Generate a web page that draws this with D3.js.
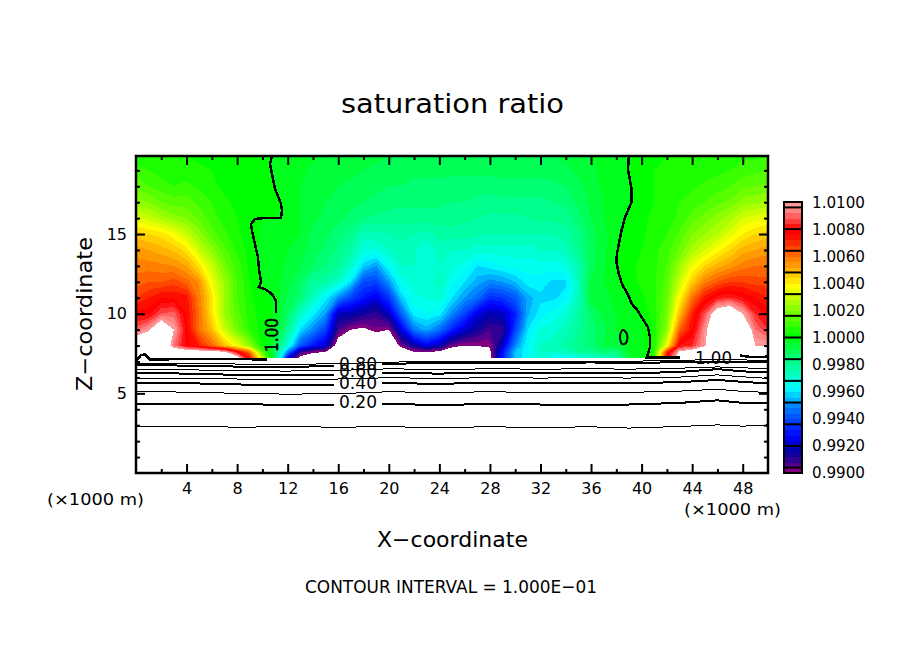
<!DOCTYPE html>
<html lang="en"><head>
<meta charset="utf-8">
<title>saturation ratio</title>
<script src="https://cdnjs.cloudflare.com/ajax/libs/d3/7.8.5/d3.min.js"></script>
<style>
  html, body { margin: 0; background: #fff; }
  text { font-family: "DejaVu Sans", sans-serif; fill: #000; }
</style>
</head>
<body>
<script>

// heights of the colour field, km
var zKm = [7.2,7.6,8,9,10,11,12,13,14,15,16,17,18,19,19.9];

// (saturation ratio - 1) * 10000, one array per km of x, bottom to top
var x00 = [110,110,115,90,78,68,62,58,54,46,34,22,15,10,5];
var x01 = [115,115,120,98,78,72,64,58,52,44,30,20,12,8,5];
var x02 = [120,120,120,118,88,76,64,57,50,42,26,16,10,6,4];
var x03 = [115,115,92,100,90,76,66,56,47,37,22,14,8,5,4];
var x04 = [115,110,78,78,76,74,62,52,42,30,20,14,9,6,4];
var x05 = [115,108,72,60,60,58,55,42,30,22,15,11,7,5,3];
var x06 = [115,105,62,48,42,42,36,30,22,14,10,8,5,4,3];
var x07 = [115,102,48,30,24,24,24,18,13,9,6,5,3,2,2];
var x08 = [110,80,36,18,14,12,12,10,7,5,4,3,2,2,1];
var x09 = [75,60,22,8,6,5,4,3,2,1.5,1,2,2,1,1];
var x10 = [30,14,4,2,2,1,-0.5,-1,-1,-1,0,3,2,1,1];
var x11 = [-8,-12,-8,-2,-0.5,-0.5,-2,-2,-2,-2,0,1,0,-1,-1];
var x12 = [-75,-50,-32,-18,-12,-9,-7,-5,-4,-3,-1,-1,-1,-2,-2];
var x13 = [-105,-90,-58,-40,-28,-14,-12,-8,-6,-4,-4,-4,-4,-3,-3];
var x14 = [-110,-98,-70,-50,-38,-27,-20,-12,-10,-9,-7,-6,-6,-5,-3];
var x15 = [-112,-100,-78,-62,-48,-38,-22,-16,-13,-11,-9,-8,-7,-6,-4];
var x16 = [-115,-110,-108,-92,-82,-50,-28,-20,-17,-14,-11,-10,-8,-7,-5];
var x17 = [-120,-120,-115,-100,-82,-62,-40,-28,-22,-18,-13,-11,-9,-7,-5];
var x18 = [-120,-120,-115,-102,-86,-70,-60,-42,-32,-26,-16,-12,-10,-8,-6];
var x19 = [-120,-120,-115,-97,-90,-76,-62,-48,-32,-25,-17,-13,-11,-9,-7];
var x20 = [-120,-120,-115,-100,-80,-64,-48,-36,-28,-24,-18,-14,-12,-10,-8];
var x21 = [-118,-110,-96,-76,-56,-42,-34,-28,-25,-23,-18,-15,-12,-10,-8];
var x22 = [-110,-100,-85,-52,-38,-33,-30,-28,-27,-24,-18,-15,-13,-11,-9];
var x23 = [-110,-100,-74,-46,-36,-32,-32,-32,-32,-26,-18,-15,-13,-11,-9];
var x24 = [-110,-102,-82,-54,-38,-30,-26,-28,-26,-22,-18,-15,-13,-11,-9];
var x25 = [-115,-110,-96,-68,-50,-40,-35,-31,-28,-22,-18,-16,-14,-11,-9];
var x26 = [-115,-112,-100,-78,-62,-48,-40,-34,-28,-22,-19,-16,-14,-11,-9];
var x27 = [-115,-115,-99,-86,-76,-54,-46,-40,-30,-23,-20,-17,-14,-11,-9];
var x28 = [-104,-102,-99,-92,-82,-66,-50,-38,-30,-24,-21,-18,-14,-11,-9];
var x29 = [-70,-70,-80,-90,-80,-64,-48,-36,-30,-24,-21,-17,-14,-10,-8];
var x30 = [-44,-44,-50,-62,-68,-58,-44,-34,-30,-24,-21,-17,-14,-10,-8];
var x31 = [-36,-36,-36,-40,-45,-46,-38,-34,-30,-24,-20,-17,-14,-10,-8];
var x32 = [-30,-28,-28,-32,-38,-41,-38,-34,-28,-24,-19,-17,-14,-10,-8];
var x33 = [-36,-28,-26,-30,-34,-41,-41,-34,-28,-24,-19,-16,-13,-10,-8];
var x34 = [-40,-26,-22,-26,-30,-38,-41,-32,-26,-22,-18,-15,-12,-9,-7];
var x35 = [-34,-20,-18,-20,-22,-26,-26,-24,-18,-17,-14,-11,-9,-7,-5];
var x36 = [-30,-18,-14,-14,-12,-6,-7,-10,-10,-10,-8,-7,-6,-5,-4];
var x37 = [-28,-14,-8,-9,-7,-5,-4,-5,-5,-5,-4,-4,-3,-3,-2];
var x38 = [-24,-16,-8,-4,-4,-3,-1,0,-0.5,-1,-1.5,-2,-2,-1,-1];
var x39 = [-6,-3,-2,-2,-2,0,2,3,2,1,1,-0.5,-0.5,0.5,0];
var x40 = [-2,-1,-1,-1,1,3,5,5,4,3,3,2,3,2,3];
var x41 = [12,8,6,5,6,7,7,7,7,6,5,4,4,4,3];
var x42 = [80,70,36,22,18,16,14,12,10,8,6,6,5,4,4];
var x43 = [110,102,80,62,48,38,30,24,17,13,9,8,6,5,4];
var x44 = [110,108,84,76,72,60,46,36,26,20,14,10,7,6,4];
var x45 = [115,115,98,96,88,74,58,44,32,24,18,12,9,6,5];
var x46 = [120,120,120,120,110,82,64,50,38,28,22,15,10,7,5];
var x47 = [120,120,120,120,115,84,68,54,44,34,26,17,12,8,6];
var x48 = [120,120,120,118,100,80,68,58,50,40,32,22,15,10,7];
var x49 = [115,115,100,92,84,76,66,60,52,44,34,23,16,11,7];
var x50 = [115,115,100,84,78,72,66,60,54,46,36,25,17,12,8];
var fieldColumns = [x00,x01,x02,x03,x04,x05,x06,x07,x08,x09,x10,x11,x12,x13,x14,x15,x16,x17,x18,x19,x20,
	x21,x22,x23,x24,x25,x26,x27,x28,x29,x30,x31,x32,x33,x34,x35,x36,x37,x38,x39,x40,x41,x42,x43,x44,x45,x46,x47,x48,x49,x50];

// height (km) of the low contour lines
var lineX = [0,4,8,12,16,20,24,28,32,36,39,43,46,48,50];
var line01 = [2.90,2.92,2.88,2.90,2.88,2.90,2.86,2.90,2.86,2.90,2.82,2.92,3.02,2.94,3.02];
var line02 = [4.34,4.36,4.32,4.28,4.26,4.32,4.28,4.32,4.30,4.28,4.30,4.40,4.56,4.40,4.38];
var line03 = [5.10,5.08,5.00,4.95,4.98,5.10,5.05,5.10,5.05,5.06,5.06,5.14,5.26,5.12,5.06];
var line04 = [5.66,5.64,5.56,5.50,5.55,5.64,5.60,5.66,5.62,5.64,5.64,5.70,5.84,5.72,5.62];
var line05 = [5.96,5.94,5.90,5.86,5.90,5.98,5.94,5.98,5.96,5.98,5.96,6.02,6.16,6.04,5.94];
var line06 = [6.28,6.24,6.16,6.12,6.18,6.28,6.24,6.30,6.26,6.28,6.26,6.34,6.52,6.38,6.32];
var line07 = [6.52,6.48,6.42,6.40,6.44,6.54,6.50,6.54,6.52,6.54,6.52,6.58,6.66,6.60,6.56];
var line08 = [6.78,6.74,6.68,6.66,6.72,6.86,6.90,6.92,6.90,6.94,6.90,6.96,7.00,6.96,6.94];
var line09 = [6.90,6.88,6.84,6.82,6.86,6.96,7.00,7.00,7.00,7.02,7.02,7.06,7.14,7.10,7.06];

// the 1.00 contour pieces, x then z in km
var leftX = [10.76,10.6,10.76,11.0,11.47,11.55,11.47,10.05,9.41,9.1,9.18,9.41,9.65,9.73,9.89,9.73,10.2,10.76,11.08,11.08];
var leftZ = [19.9,19.4,18.78,17.84,16.9,16.45,16.0,16.0,15.95,15.63,15.2,14.37,13.56,12.8,12.0,11.67,11.55,11.23,10.8,10.04];
var rightX = [39.0,38.92,39.2,39.2,38.7,38.4,38.05,38.0,38.2,38.45,38.9,39.24,39.6,40.1,40.5,40.66,40.66,40.4,43.04];
var rightZ = [19.9,19.09,17.84,17.0,16.07,15.2,13.75,13.3,12.5,11.86,11.23,10.6,10.3,9.66,9.16,8.53,7.9,7.25,7.25];
var loopX = [38.53,38.84,38.84,38.6,38.37,38.3];
var loopZ = [8.97,8.72,8.28,8.08,8.2,8.65];
var baseLeftX = [0,0.4,0.7,1.1,4,8,10.4];
var baseLeftZ = [7.05,7.4,7.45,7.13,7.15,7.15,7.13];
var baseRightX = [47.8,48.6,50];
var baseRightZ = [7.38,7.28,7.3];

// labels on the contours
var lowLabels = ["0.20","0.40","0.60","0.80"];
var lowLabelZ = [4.05,5.25,6.0,6.45];

var xMajor = [4,8,12,16,20,24,28,32,36,40,44,48];
var xMinor = [2,6,10,14,18,22,26,30,34,38,42,46];
var zMajor = [5,10,15];
var zMinor = [1,2,3,4,6,7,8,9,11,12,13,14,16,17,18,19];

// colour bar
var barLabels = ["0.9900","0.9920","0.9940","0.9960","0.9980","1.0000","1.0020","1.0040","1.0060","1.0080","1.0100"];
var stopValues = [-98,-92,-84,-73,-51,-37,-16,2,38,58,76,80,93,98];
var stopColors = ["#800080","#400090","#0000a0","#0000ff","#0080ff","#00ffff","#00ff80","#00ff00","#ffff00","#ff8000","#ff0000","#ff0000","#ff8080","#ff9999"];

var w = 904, h = 654;

var x = d3.scaleLinear().domain([0, 50]).range([136, 768]);
var z = d3.scaleLinear().domain([0, 19.9]).range([473, 156]);

var svg = d3.select("body").append("svg")
	.attr("width", w)
	.attr("height", h)
	.style("display", "block");

var defs = svg.append("defs");
defs.append("clipPath").attr("id", "frameClip").append("rect")
	.attr("x", x(0)).attr("y", z(19.9))
	.attr("width", x(50) - x(0)).attr("height", z(0) - z(19.9));
// even lines are broken where the label sits
var gap = defs.append("clipPath").attr("id", "gapClip");
gap.append("rect").attr("x", x(0)).attr("y", z(19.9))
	.attr("width", x(15.66) - x(0)).attr("height", z(0) - z(19.9));
gap.append("rect").attr("x", x(19.46)).attr("y", z(19.9))
	.attr("width", x(50) - x(19.46)).attr("height", z(0) - z(19.9));

// contour levels every 0.0004
var thresholds = d3.range(-100, 101, 4);
var palette = d3.scaleLinear().domain(stopValues).range(stopColors)
	.interpolate(d3.interpolateRgb).clamp(true);

var values = [];
zKm.forEach(function(d, j) {
	fieldColumns.forEach(function(col) { values.push(col[j]); });
});

var contours = d3.contours()
	.size([fieldColumns.length, zKm.length])
	.thresholds(thresholds)(values);

// grid index -> km, the heights are not even
var xIndex = d3.scaleLinear().domain([0.5, fieldColumns.length - 0.5]).range([0, 50]).clamp(true);
var zIndex = d3.scaleLinear().domain(zKm.map(function(d, i) { return i + 0.5; })).range(zKm).clamp(true);

var path = d3.geoPath(d3.geoTransform({
	point: function(a, b) { this.stream.point(x(xIndex(a)), z(zIndex(b))); }
}));

svg.append("g").attr("clip-path", "url(#frameClip)")
	.selectAll("path")
	.data(contours)
	.enter()
	.append("path")
	.attr("d", path)
	.attr("shape-rendering", "crispEdges")
	.attr("fill", function(d) {
		return d.value >= 100 ? "#fff" : palette(d.value + 2);
	});

// black contour lines
var line = d3.line()
	.x(function(d) { return x(d[0]); })
	.y(function(d) { return z(d[1]); });

var lineGroup = svg.append("g").attr("fill", "none").attr("stroke", "#000").attr("clip-path", "url(#frameClip)");

function drawLine(xs, zs, width, clip) {
	var p = lineGroup.append("path")
		.attr("d", line(xs.map(function(d, i) { return [d, zs[i]]; })))
		.attr("stroke-width", width)
		.attr("shape-rendering", "crispEdges");
	if (clip) {
		p.attr("clip-path", "url(#gapClip)");
	}
	return p;
}

drawLine(lineX, line01, 1, false);
drawLine(lineX, line02, 2, true);
drawLine(lineX, line03, 1, false);
drawLine(lineX, line04, 2, true);
drawLine(lineX, line05, 1, false);
drawLine(lineX, line06, 2, true);
drawLine(lineX, line07, 1, false);
drawLine(lineX, line08, 2, true);
drawLine(lineX, line09, 1, false);

drawLine(baseLeftX, baseLeftZ, 2.5, false);
drawLine(baseRightX, baseRightZ, 2.5, false);
drawLine(leftX, leftZ, 2.5, false);
drawLine(rightX, rightZ, 2.5, false);

lineGroup.append("path")
	.attr("d", d3.line()
		.x(function(d) { return x(d[0]); })
		.y(function(d) { return z(d[1]); })
		.curve(d3.curveCardinalClosed)(loopX.map(function(d, i) { return [d, loopZ[i]]; })))
	.attr("stroke-width", 2);

// contour labels
svg.append("g").selectAll("text")
	.data(lowLabels)
	.enter()
	.append("text")
	.text(function(d) { return d; })
	.attr("x", 339)
	.attr("y", function(d, i) { return z(lowLabelZ[i]); })
	.attr("font-size", 17)
	.attr("textLength", 38)
	.attr("lengthAdjust", "spacingAndGlyphs");

svg.append("text").text("1.00")
	.attr("x", 695).attr("y", 364)
	.attr("font-size", 17)
	.attr("textLength", 37)
	.attr("lengthAdjust", "spacingAndGlyphs");

svg.append("text").text("1.00")
	.attr("transform", "translate(278,352) rotate(-90)")
	.attr("font-size", 18)
	.attr("stroke", "#000")
	.attr("stroke-width", 0.6)
	.attr("textLength", 34)
	.attr("lengthAdjust", "spacingAndGlyphs");

// ticks on all four sides, inward
function drawAxis(gen, dx, dy, labels, padding) {
	var g = svg.append("g")
		.attr("transform", "translate(" + dx + "," + dy + ")")
		.call(gen.tickSizeOuter(0).tickPadding(padding).tickFormat(labels ? d3.format("d") : ""));
	g.select(".domain").remove();
	g.selectAll("line").attr("stroke", "#000").attr("stroke-width", 2);
	g.selectAll("text").attr("font-size", 16).attr("font-family", null);
	return g;
}

drawAxis(d3.axisBottom(x).tickValues(xMajor).tickSize(-9), 0, z(0), true, 10);
drawAxis(d3.axisBottom(x).tickValues(xMinor).tickSize(-4), 0, z(0), false, 0);
drawAxis(d3.axisTop(x).tickValues(xMajor).tickSize(-9), 0, z(19.9), false, 0);
drawAxis(d3.axisTop(x).tickValues(xMinor).tickSize(-4), 0, z(19.9), false, 0);
drawAxis(d3.axisLeft(z).tickValues(zMajor).tickSize(-9), x(0), 0, true, 9);
drawAxis(d3.axisLeft(z).tickValues(zMinor).tickSize(-4), x(0), 0, false, 0);
drawAxis(d3.axisRight(z).tickValues(zMajor).tickSize(-9), x(50), 0, false, 0);
drawAxis(d3.axisRight(z).tickValues(zMinor).tickSize(-4), x(50), 0, false, 0);

// frame
svg.append("rect")
	.attr("x", x(0)).attr("y", z(19.9))
	.attr("width", x(50) - x(0)).attr("height", z(0) - z(19.9))
	.attr("fill", "none").attr("stroke", "#000").attr("stroke-width", 2.5);

// colour bar, 50 bands with a black rule every fourth level
var barY = d3.scaleLinear().domain([-100, 100]).range([473, 202]);
var bar = svg.append("g");

bar.selectAll("rect.band")
	.data(thresholds.slice(0, -1))
	.enter()
	.append("rect")
	.attr("class", "band")
	.attr("x", 784)
	.attr("y", function(d) { return barY(d + 4); })
	.attr("width", 18)
	.attr("height", function(d) { return barY(d) - barY(d + 4) + 0.5; })
	.attr("shape-rendering", "crispEdges")
	.attr("fill", function(d) { return palette(d + 2); });

bar.selectAll("line")
	.data(thresholds.filter(function(d, i) { return i % 4 == 1; }))
	.enter()
	.append("line")
	.attr("x1", 784).attr("x2", 802)
	.attr("y1", function(d) { return barY(d); })
	.attr("y2", function(d) { return barY(d); })
	.attr("stroke", "#000").attr("stroke-width", 2);

bar.append("rect")
	.attr("x", 784).attr("y", 202).attr("width", 18).attr("height", 271)
	.attr("fill", "none").attr("stroke", "#000").attr("stroke-width", 2);

var barLabelY = d3.scalePoint().domain(barLabels).range([472.5, 202]);

bar.selectAll("text")
	.data(barLabels)
	.enter()
	.append("text")
	.text(function(d) { return d; })
	.attr("x", 812)
	.attr("y", function(d) { return barLabelY(d); })
	.attr("dy", "0.36em")
	.attr("font-size", 16)
	.attr("textLength", 53)
	.attr("lengthAdjust", "spacingAndGlyphs");

// titles
function label(txt, px, py, size, len) {
	return svg.append("text").text(txt)
		.attr("x", px).attr("y", py)
		.attr("font-size", size)
		.attr("textLength", len)
		.attr("lengthAdjust", "spacingAndGlyphs");
}

label("saturation ratio", 341, 113, 27, 223);
label("X\u2212coordinate", 377, 547, 21, 151);
label("CONTOUR INTERVAL = 1.000E\u221201", 305, 593, 18, 292);
label("(\u00d71000 m)", 47, 505, 16, 97);
label("(\u00d71000 m)", 684, 515, 16, 97);

svg.append("text").text("Z\u2212coordinate")
	.attr("transform", "translate(92,391) rotate(-90)")
	.attr("font-size", 21)
	.attr("textLength", 154)
	.attr("lengthAdjust", "spacingAndGlyphs");

</script>
</body></html>
